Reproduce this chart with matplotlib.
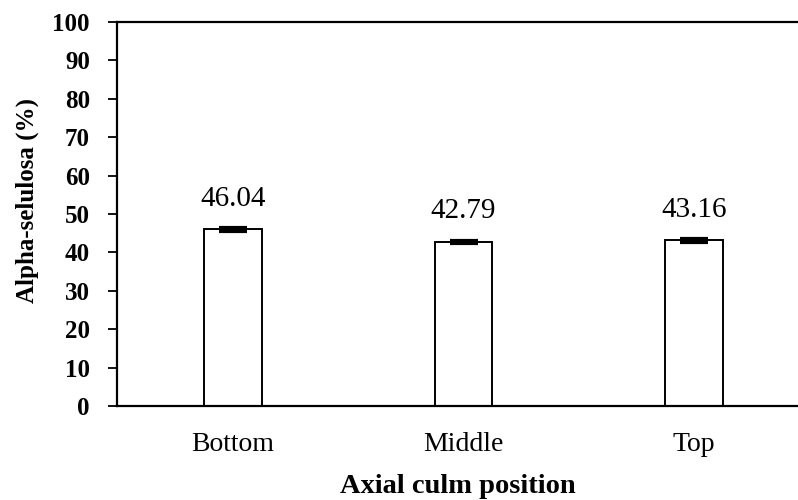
import matplotlib
matplotlib.use("Agg")
import matplotlib.pyplot as plt

categories = ["Bottom", "Middle", "Top"]
values = [46.04, 42.79, 43.16]
errors = [0.4, 0.3, 0.4]
labels = ["46.04", "42.79", "43.16"]
yticks = list(range(0, 101, 10))

plt.rcParams['font.family'] = ['Liberation Serif', 'DejaVu Serif']

fig = plt.figure(figsize=(7.98, 5.0), dpi=100)
ax = fig.add_axes([0.1466, 0.188, 0.8534, 0.768])

x = list(range(len(categories)))
ax.bar(x, values, width=0.25, color="white", edgecolor="black", linewidth=1.4, zorder=2)
ax.errorbar(x, values, yerr=errors, fmt="none", ecolor="black", elinewidth=1.5,
            capsize=10, capthick=3, zorder=3)
for xi, v, t in zip(x, values, labels):
    ax.text(xi, v + 7.9, t, ha="center", va="center", fontsize=21)

ax.set_xlim(-0.503, 2.45)
ax.set_ylim(0, 100)
ax.set_yticks(yticks)
ax.set_yticklabels([str(t) for t in yticks], fontsize=18, fontweight="bold")
ax.set_xticks(x)
ax.set_xticklabels(categories, fontsize=20)
ax.tick_params(axis="x", length=0, pad=19)
ax.tick_params(axis="y", length=6.5, width=1.3, direction="out", pad=13)

for s in ["left", "bottom", "top"]:
    ax.spines[s].set_linewidth(1.6)
ax.spines["right"].set_visible(False)

ax.set_xlabel("Axial culm position", fontsize=20.5, fontweight="bold", labelpad=12)
ax.set_ylabel("Alpha-selulosa (%)", fontsize=18, fontweight="bold")
ax.yaxis.set_label_coords(-0.115, 0.534)

fig.savefig("out.png", dpi=100)
